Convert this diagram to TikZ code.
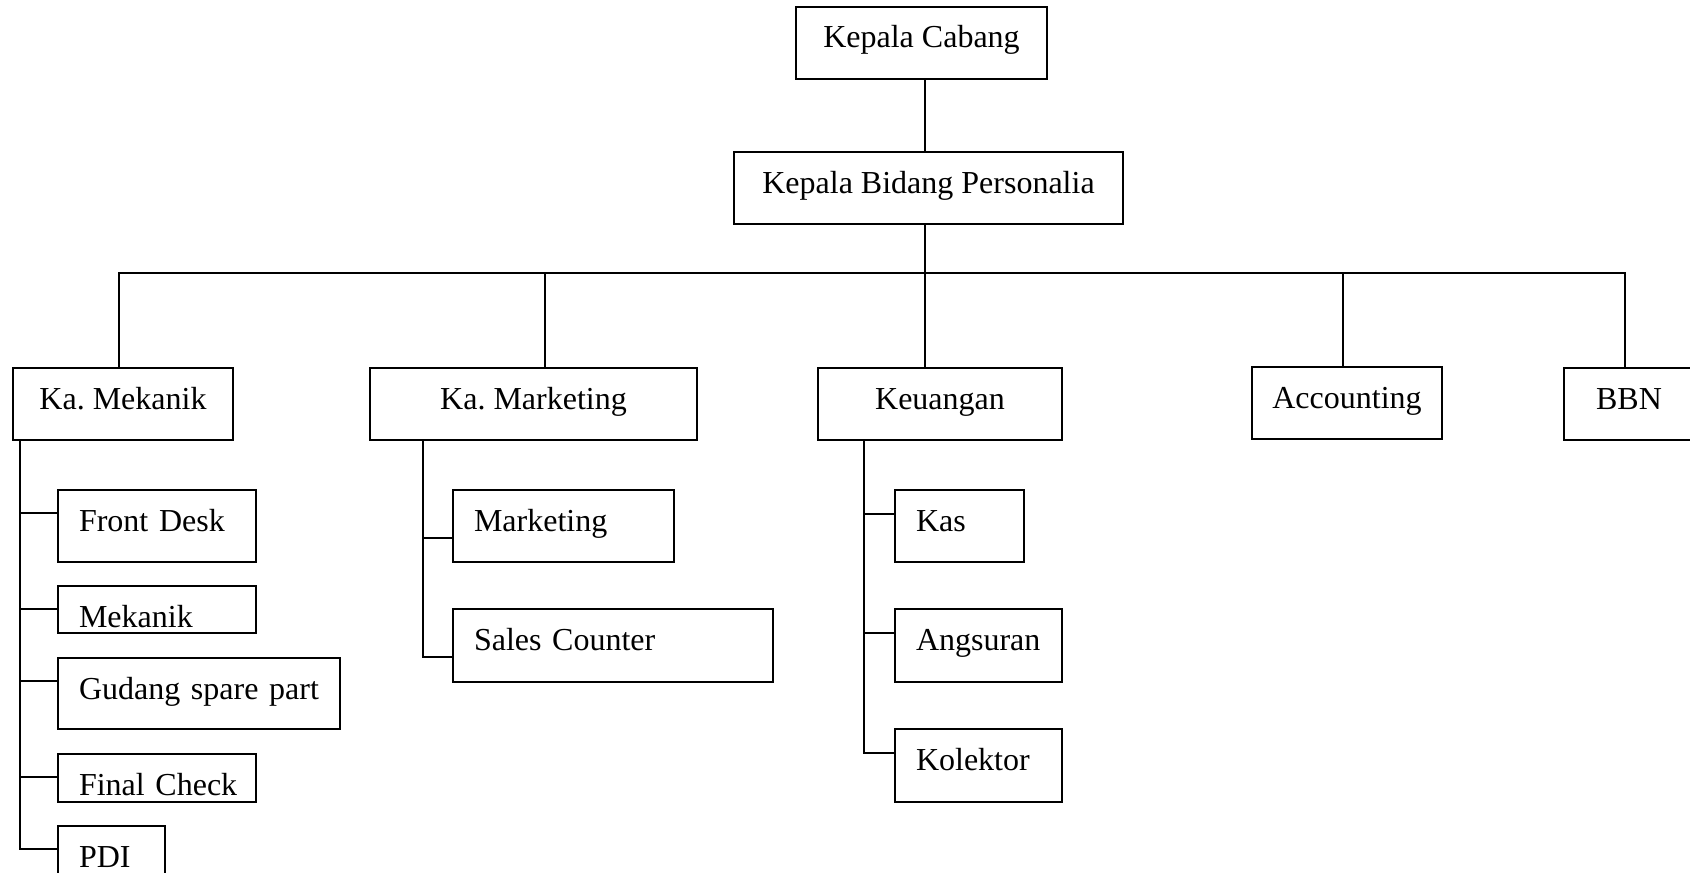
\documentclass[tikz,border=0pt]{standalone}
\usepackage{fontspec}
\setmainfont{Liberation Serif}
\frenchspacing
\usetikzlibrary{positioning}
\tikzset{
  box/.style={draw, line width=0.8pt, outer sep=0pt, inner ysep=0pt, text height=20.5pt, text depth=15.5pt,
    font=\fontsize{16pt}{19pt}\selectfont},
  top/.style={box, anchor=north west, minimum width=#1},
  sub/.style={box, anchor=north west, inner xsep=0pt, text width=#1, align=left,
    execute at begin node={\hspace*{10.5pt}}},
  link/.style={line width=0.8pt}
}

\begin{document}
\begin{tikzpicture}
  \useasboundingbox (0,0) rectangle (845pt,-436pt);
  % pimpinan
  \node[top=125.5pt] (cabang) at (398pt,-3.5pt) {Kepala Cabang};
  \node[box, minimum width=194.5pt] (kabid) [below=36.5pt of cabang, xshift=3.5pt] {Kepala Bidang Personalia};
  \coordinate (trunk) at (462.5pt,-136.5pt);
  % bagian
  \node[top=110pt] (kamek) at (6.5pt,-184pt) {Ka. Mekanik};
  \node[top=163.5pt] (kamkt) at (185pt,-184pt) {Ka. Marketing};
  \node[top=122pt] (keu) at (409pt,-184pt) {Keuangan};
  \node[top=95pt] (acc) at (626pt,-183.5pt) {Accounting};
  \node[top=65pt] (bbn) at (782pt,-184pt) {BBN};
  % staf mekanik
  \node[sub=99pt] (fd) [below right=25pt and 22.5pt of kamek.south west] {Front Desk};
  \node[sub=99pt, text depth=3pt] (mek) [below right=12pt and 0pt of fd.south west] {Mekanik};
  \node[sub=141pt, text depth=15pt] (gud) [below right=12.5pt and 0pt of mek.south west] {Gudang spare part};
  \node[sub=99pt, text depth=3.5pt] (fc) [below right=12.5pt and 0pt of gud.south west] {Final Check};
  \node[sub=53.5pt] (pdi) [below right=12pt and 0pt of fc.south west] {PDI};
  % staf marketing
  \node[sub=110.5pt] (mkt) [below right=25pt and 41.5pt of kamkt.south west] {Marketing};
  \node[sub=160pt, text depth=16pt] (sc) [below right=23.5pt and 0pt of mkt.south west] {Sales Counter};
  % staf keuangan
  \node[sub=64.5pt] (kas) [below right=25pt and 38.5pt of keu.south west] {Kas};
  \node[sub=83.5pt, text depth=16pt] (ang) [below right=23.5pt and 0pt of kas.south west] {Angsuran};
  \node[sub=83.5pt, text depth=16pt] (kol) [below right=23.5pt and 0pt of ang.south west] {Kolektor};

  \draw[link] (cabang.south -| trunk) -- (kabid.north -| trunk);
  \draw[link] (kabid.south -| trunk) -- (keu.north -| trunk);
  \draw[link] ([xshift=-2pt]kamek.north) |- (trunk) -| ([xshift=-2pt]bbn.north);
  \draw[link] ([xshift=5.75pt]kamkt.north) |- (trunk);
  \draw[link] ([xshift=-2pt]acc.north) |- (trunk);

  \coordinate (mekline) at ([xshift=3.5pt]kamek.south west);
  \foreach \s in {fd,mek,gud,fc,pdi}
    \draw[link] (mekline) |- ([yshift=-11.5pt]\s.north west);
  \coordinate (mktline) at ([xshift=26.5pt]kamkt.south west);
  \foreach \s in {mkt,sc}
    \draw[link] (mktline) |- ([yshift=-24pt]\s.north west);
  \coordinate (keuline) at ([xshift=23pt]keu.south west);
  \foreach \s in {kas,ang,kol}
    \draw[link] (keuline) |- ([yshift=-12pt]\s.north west);
\end{tikzpicture}
\end{document}
